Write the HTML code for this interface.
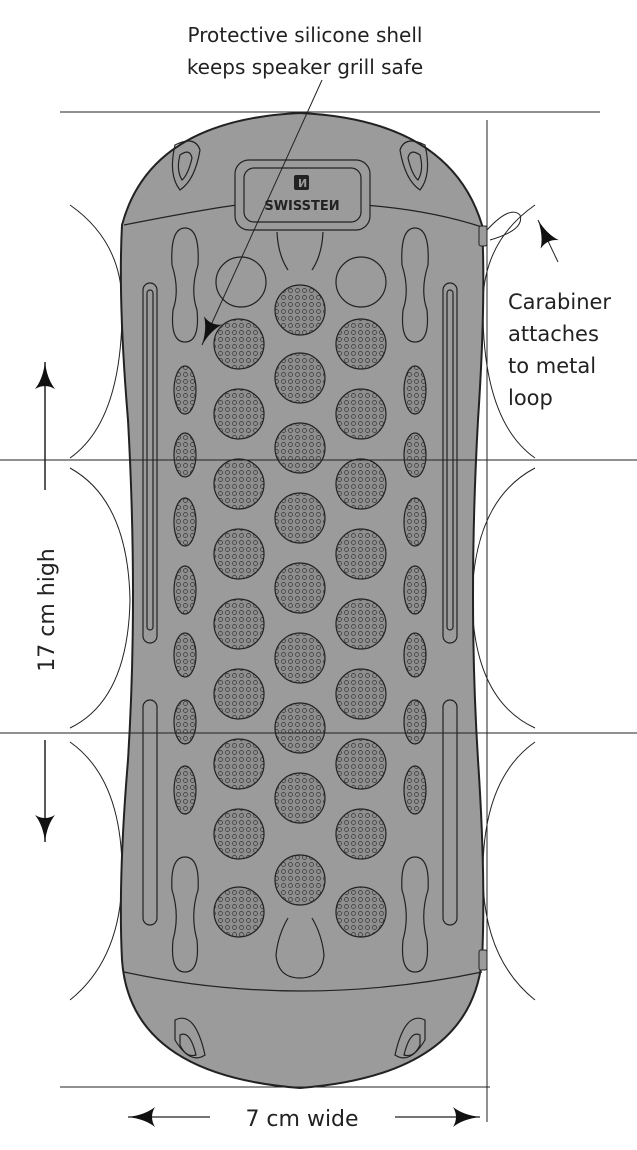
<!DOCTYPE html>
<html><head><style>
html,body{margin:0;padding:0;background:#fff;}
svg{display:block;}
text{font-family:"DejaVu Sans","Liberation Sans",sans-serif;fill:#222;}
</style></head><body>
<svg width="637" height="1150" viewBox="0 0 637 1150" xmlns="http://www.w3.org/2000/svg">
<defs>
<pattern id="dots" width="7" height="7" patternUnits="userSpaceOnUse">
<rect width="7" height="7" fill="#8e8e8e"/>
<circle cx="3.5" cy="3.5" r="2" fill="none" stroke="#333" stroke-width="0.7"/>
</pattern>
<marker id="ah" markerWidth="12" markerHeight="12" refX="11" refY="6" orient="auto" markerUnits="userSpaceOnUse"><path d="M0,0 L12,6 L0,12 Z" fill="#111"/></marker>
<marker id="big" markerWidth="28" markerHeight="20" refX="27" refY="10" orient="auto" markerUnits="userSpaceOnUse"><path d="M0,0 Q10,8 27,10 Q10,12 0,20 Q6,10 0,0 Z" fill="#111"/></marker>
</defs>

<g fill="none" stroke="#222" stroke-width="1">
<path d="M70,205 Q120,240 122,300 Q124,420 70,458"/>
<path d="M70,468 Q128,500 130,600 Q128,700 70,728"/>
<path d="M70,742 Q124,780 122,880 Q120,960 70,1000"/>
<path d="M535,205 Q485,240 483,300 Q481,420 535,458"/>
<path d="M535,468 Q474,500 472,600 Q474,700 535,728"/>
<path d="M535,742 Q481,780 483,880 Q485,960 535,1000"/>
</g>

<path d="M122,225 Q150,120 300,113 Q450,120 482,225 Q486,300 478,420 Q468,600 478,760 Q486,880 482,960 Q470,1075 300,1088 Q130,1075 122,960 Q118,880 128,760 Q138,600 128,420 Q118,300 122,225 Z" fill="#9b9b9b" stroke="#222" stroke-width="2"/>
<path d="M124,225 Q200,210 237,205 M364,205 Q430,210 482,227" fill="none" stroke="#222" stroke-width="1.2"/>
<path d="M124,972 Q300,1010 482,972" fill="none" stroke="#222" stroke-width="1.2"/>

<rect x="235" y="160" width="135" height="70" rx="14" fill="#9b9b9b" stroke="#222" stroke-width="1.2"/>
<rect x="244" y="168" width="117" height="54" rx="10" fill="none" stroke="#222" stroke-width="1.2"/>
<rect x="294" y="175" width="15" height="15" rx="2" fill="#222"/>
<text x="298" y="187" font-size="11" font-weight="bold" style="fill:#9b9b9b">И</text>
<text x="302" y="210" font-size="13" font-weight="bold" text-anchor="middle">SWISSTEИ</text>

<g fill="none" stroke="#222" stroke-width="1.2">
<path d="M175,145 Q195,135 200,150 Q195,180 180,190 Q168,175 175,145 Z"/>
<path d="M180,155 Q190,148 192,158 Q188,175 182,180 Q176,170 180,155 Z"/>
<path d="M425,145 Q405,135 400,150 Q405,180 420,190 Q432,175 425,145 Z"/>
<path d="M420,155 Q410,148 408,158 Q412,175 418,180 Q424,170 420,155 Z"/>
<path d="M175,1020 Q195,1010 205,1055 Q190,1065 175,1040 Z"/>
<path d="M180,1035 Q190,1030 196,1055 Q186,1058 180,1045 Z"/>
<path d="M425,1020 Q405,1010 395,1055 Q410,1065 425,1040 Z"/>
<path d="M420,1035 Q410,1030 404,1055 Q414,1058 420,1045 Z"/>
</g>

<g fill="none" stroke="#222" stroke-width="1.2">
<path d="M185,228 Q200,228 198,265 Q190,290 197,310 Q200,342 185,342 Q170,342 173,310 Q180,290 172,265 Q170,228 185,228 Z"/>
<path d="M415,228 Q430,228 428,265 Q420,290 427,310 Q430,342 415,342 Q400,342 403,310 Q410,290 402,265 Q400,228 415,228 Z"/>
<path d="M185,857 Q200,857 198,890 Q190,915 197,940 Q200,972 185,972 Q170,972 173,940 Q180,915 172,890 Q170,857 185,857 Z"/>
<path d="M415,857 Q430,857 428,890 Q420,915 427,940 Q430,972 415,972 Q400,972 403,940 Q410,915 402,890 Q400,857 415,857 Z"/>
<path d="M277,232 Q278,255 288,270 M323,232 Q322,255 312,270"/>
<path d="M288,918 Q278,935 276,955 Q278,978 300,978 Q322,978 324,955 Q322,935 312,918"/>
<rect x="143" y="283" width="14" height="360" rx="7"/>
<rect x="147" y="290" width="6" height="340" rx="3"/>
<rect x="443" y="283" width="14" height="360" rx="7"/>
<rect x="447" y="290" width="6" height="340" rx="3"/>
<rect x="143" y="700" width="14" height="225" rx="7"/>
<rect x="443" y="700" width="14" height="225" rx="7"/>
<circle cx="241" cy="282" r="25"/>
<circle cx="361" cy="282" r="25"/>
</g>

<g stroke="#222" stroke-width="1.2" fill="url(#dots)">
<ellipse cx="185" cy="390" rx="11" ry="24"/><ellipse cx="185" cy="455" rx="11" ry="22"/><ellipse cx="185" cy="522" rx="11" ry="24"/><ellipse cx="185" cy="590" rx="11" ry="24"/><ellipse cx="185" cy="655" rx="11" ry="22"/><ellipse cx="185" cy="722" rx="11" ry="22"/><ellipse cx="185" cy="790" rx="11" ry="24"/>
<ellipse cx="415" cy="390" rx="11" ry="24"/><ellipse cx="415" cy="455" rx="11" ry="22"/><ellipse cx="415" cy="522" rx="11" ry="24"/><ellipse cx="415" cy="590" rx="11" ry="24"/><ellipse cx="415" cy="655" rx="11" ry="22"/><ellipse cx="415" cy="722" rx="11" ry="22"/><ellipse cx="415" cy="790" rx="11" ry="24"/>
</g>

<g fill="url(#dots)" stroke="#222" stroke-width="1.2">
<circle cx="300" cy="310" r="25"/><circle cx="300" cy="378" r="25"/><circle cx="300" cy="448" r="25"/><circle cx="300" cy="518" r="25"/><circle cx="300" cy="588" r="25"/><circle cx="300" cy="658" r="25"/><circle cx="300" cy="728" r="25"/><circle cx="300" cy="798" r="25"/><circle cx="300" cy="880" r="25"/>
<circle cx="239" cy="344" r="25"/><circle cx="239" cy="414" r="25"/><circle cx="239" cy="484" r="25"/><circle cx="239" cy="554" r="25"/><circle cx="239" cy="624" r="25"/><circle cx="239" cy="694" r="25"/><circle cx="239" cy="764" r="25"/><circle cx="239" cy="834" r="25"/><circle cx="239" cy="912" r="25"/>
<circle cx="361" cy="344" r="25"/><circle cx="361" cy="414" r="25"/><circle cx="361" cy="484" r="25"/><circle cx="361" cy="554" r="25"/><circle cx="361" cy="624" r="25"/><circle cx="361" cy="694" r="25"/><circle cx="361" cy="764" r="25"/><circle cx="361" cy="834" r="25"/><circle cx="361" cy="912" r="25"/>
</g>

<rect x="479" y="226" width="8" height="20" rx="2" fill="#9b9b9b" stroke="#222"/>
<path d="M487,230 Q510,205 520,215 Q525,230 490,240" fill="none" stroke="#222"/>
<rect x="479" y="950" width="8" height="20" rx="2" fill="#9b9b9b" stroke="#222"/>

<g stroke="#222" stroke-width="1" fill="none">
<line x1="60" y1="112" x2="600" y2="112"/>
<line x1="0" y1="460" x2="637" y2="460"/>
<line x1="0" y1="733" x2="637" y2="733"/>
<line x1="60" y1="1087" x2="490" y2="1087"/>
<line x1="487" y1="120" x2="487" y2="1122"/>
<line x1="322" y1="80" x2="202" y2="345" marker-end="url(#big)"/>
<line x1="558" y1="262" x2="538" y2="220" marker-end="url(#big)"/>
<line x1="45" y1="490" x2="45" y2="362" marker-end="url(#big)" stroke-width="1.5"/>
<line x1="45" y1="740" x2="45" y2="842" marker-end="url(#big)" stroke-width="1.5"/>
<line x1="210" y1="1117" x2="128" y2="1117" marker-end="url(#big)" stroke-width="1.2"/>
<line x1="395" y1="1117" x2="480" y2="1117" marker-end="url(#big)" stroke-width="1.2"/>
</g>

<text x="305" y="42" font-size="20" text-anchor="middle">Protective silicone shell</text>
<text x="305" y="74" font-size="20" text-anchor="middle">keeps speaker grill safe</text>
<text x="508" y="309" font-size="21">Carabiner</text>
<text x="508" y="341" font-size="21">attaches</text>
<text x="508" y="373" font-size="21">to metal</text>
<text x="508" y="405" font-size="21">loop</text>
<text transform="translate(54,610) rotate(-90)" font-size="22" text-anchor="middle">17 cm high</text>
<text x="302" y="1126" font-size="22" text-anchor="middle">7 cm wide</text>
</svg>
</body></html>
